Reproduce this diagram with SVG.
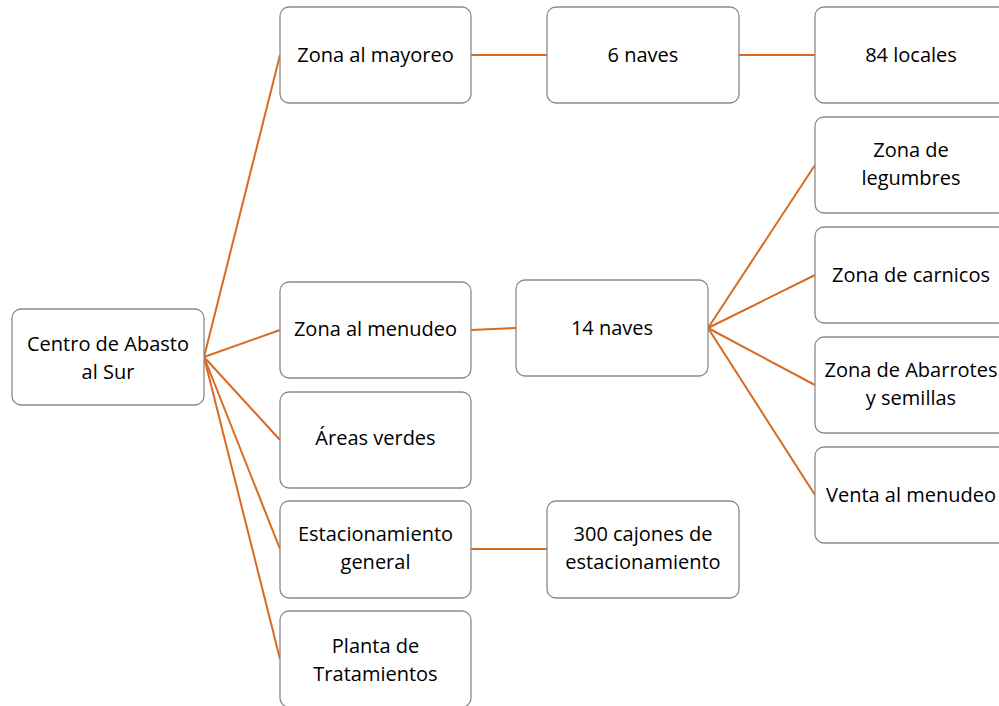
<svg xmlns="http://www.w3.org/2000/svg" width="999" height="706" viewBox="0 0 999 706">
<style>
.box{fill:#fff;stroke:#8a8a8a;stroke-width:1.3}
.t{font-family:"Open Sans","Noto Sans","Liberation Sans",sans-serif;font-size:20px;fill:#000;text-anchor:middle}
.c{stroke:#D86A22;stroke-width:2;fill:none}
</style>
<rect width="999" height="706" fill="#fff"/>
<g id="connectors">
<line class="c" x1="204" y1="357" x2="280" y2="55"/>
<line class="c" x1="204" y1="357" x2="280" y2="330"/>
<line class="c" x1="204" y1="357" x2="280" y2="440"/>
<line class="c" x1="204" y1="357" x2="280" y2="549"/>
<line class="c" x1="204" y1="357" x2="280" y2="659"/>
<line class="c" x1="471" y1="55" x2="547" y2="55"/>
<line class="c" x1="739" y1="55" x2="815" y2="55"/>
<line class="c" x1="471" y1="330" x2="516" y2="328"/>
<line class="c" x1="708" y1="328" x2="815" y2="165"/>
<line class="c" x1="708" y1="328" x2="815" y2="275"/>
<line class="c" x1="708" y1="328" x2="815" y2="385"/>
<line class="c" x1="708" y1="328" x2="815" y2="495"/>
<line class="c" x1="471" y1="549" x2="547" y2="549"/>
</g>
<g id="root"><rect class="box" x="12" y="309" width="192" height="96" rx="9"/><text class="t" x="108" y="351">Centro de Abasto</text><text class="t" x="108" y="378.5">al Sur</text></g>
<g id="mayoreo"><rect class="box" x="280" y="7" width="191" height="96" rx="9"/><text class="t" x="375.5" y="62">Zona al mayoreo</text></g>
<g id="menudeo"><rect class="box" x="280" y="282" width="191" height="96" rx="9"/><text class="t" x="375.5" y="336">Zona al menudeo</text></g>
<g id="areas"><rect class="box" x="280" y="392" width="191" height="96" rx="9"/><text class="t" x="375.5" y="445">Áreas verdes</text></g>
<g id="estacionamiento"><rect class="box" x="280" y="501" width="191" height="97" rx="9"/><text class="t" x="375.5" y="541">Estacionamiento</text><text class="t" x="375.5" y="568.5">general</text></g>
<g id="planta"><rect class="box" x="280" y="611" width="191" height="96" rx="9"/><text class="t" x="375.5" y="653">Planta de</text><text class="t" x="375.5" y="680.5">Tratamientos</text></g>
<g id="naves6"><rect class="box" x="547" y="7" width="192" height="96" rx="9"/><text class="t" x="643" y="62">6 naves</text></g>
<g id="naves14"><rect class="box" x="516" y="280" width="192" height="96" rx="9"/><text class="t" x="612" y="335">14 naves</text></g>
<g id="cajones"><rect class="box" x="547" y="501" width="192" height="97" rx="9"/><text class="t" x="643" y="541">300 cajones de</text><text class="t" x="643" y="568.5">estacionamiento</text></g>
<g id="locales"><rect class="box" x="815" y="7" width="192" height="96" rx="9"/><text class="t" x="911" y="62">84 locales</text></g>
<g id="legumbres"><rect class="box" x="815" y="117" width="192" height="96" rx="9"/><text class="t" x="911" y="157">Zona de</text><text class="t" x="911" y="184.5">legumbres</text></g>
<g id="carnicos"><rect class="box" x="815" y="227" width="192" height="96" rx="9"/><text class="t" x="911" y="282">Zona de carnicos</text></g>
<g id="abarrotes"><rect class="box" x="815" y="337" width="192" height="96" rx="9"/><text class="t" x="911" y="377">Zona de Abarrotes</text><text class="t" x="911" y="404.5">y semillas</text></g>
<g id="venta"><rect class="box" x="815" y="447" width="192" height="96" rx="9"/><text class="t" x="911" y="502">Venta al menudeo</text></g>
</svg>
